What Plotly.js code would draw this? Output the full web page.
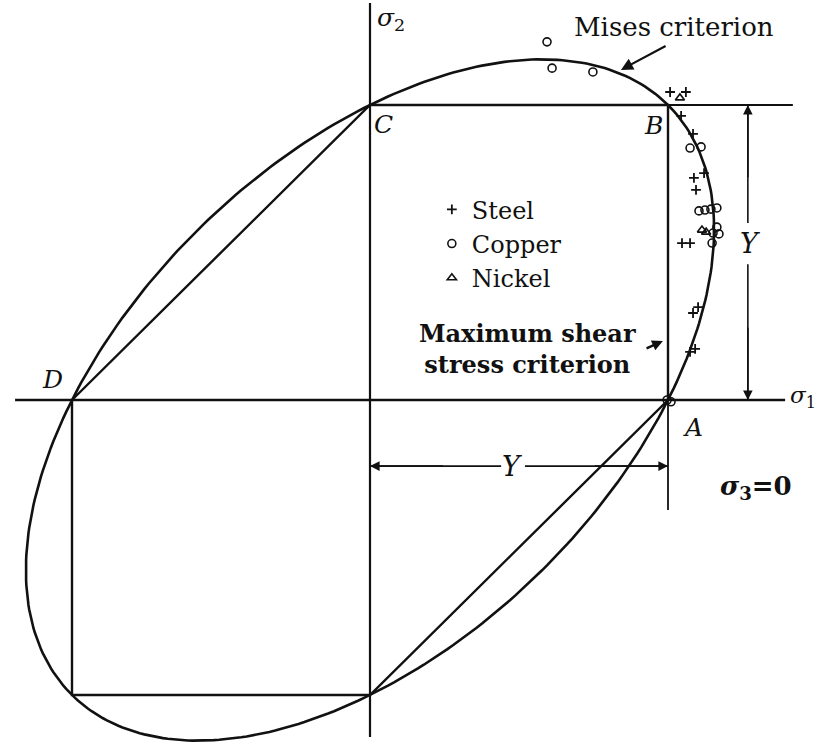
<!DOCTYPE html>
<html>
<head>
<meta charset="utf-8">
<script src="https://cdn.plot.ly/plotly-3.0.1.min.js"></script>
<style>
  html, body { margin: 0; padding: 0; background: #ffffff; }
  #chart { width: 821px; height: 743px; }
</style>
</head>
<body>
<div id="chart"></div>
<script>
// Biaxial yield test results, stresses in units of the uniaxial yield stress Y (σ3 = 0)
const steelS1  = [1.007, 1.060, 1.044, 1.084, 1.121, 1.087, 1.094, 1.047, 1.074, 1.084, 1.101, 1.074, 1.091];
const steelS2  = [1.044, 1.044, 0.963, 0.902, 0.769, 0.753, 0.712, 0.532, 0.532, 0.295, 0.315, 0.163, 0.173];
const copperS1 = [0.594, 0.611, 0.748, 1.074, 1.111, 1.104, 1.124, 1.144, 1.164, 1.164, 1.151, 1.171, 1.148, 0.997, 1.010];
const copperS2 = [1.214, 1.125, 1.112, 0.854, 0.858, 0.641, 0.644, 0.647, 0.651, 0.586, 0.566, 0.563, 0.532, 0.000, -0.006];
const nickelS1 = [1.040, 1.114, 1.128];
const nickelS2 = [1.024, 0.576, 0.569];

// Tresca (maximum shear stress) hexagon: D, C, B, A, lower vertex, lower-left corner, back to D
const trescaS1 = [-1, 0, 1, 1, 0, -1, -1];
const trescaS2 = [ 0, 1, 1, 0, -1, -1, 0];

// Mises ellipse: σ1² − σ1σ2 + σ2² = Y², with Y = 1
const misesS1 = [], misesS2 = [];
for (let i = 0; i <= 360; i++) {
  const t = i * Math.PI / 180;
  const u = Math.SQRT2 * Math.cos(t);          // along σ1 = σ2
  const v = Math.sqrt(2 / 3) * Math.sin(t);    // across it
  misesS1.push((u - v) / Math.SQRT2);
  misesS2.push((u + v) / Math.SQRT2);
}

const INK = '#111111';
const SERIF = 'DejaVu Serif, Liberation Serif, serif';
const DIM_Y = -0.224;   // height of the horizontal Y dimension line

const traces = [
  { x: misesS1, y: misesS2, mode: 'lines', line: { color: INK, width: 2.6 }, showlegend: false, hoverinfo: 'skip' },
  { x: trescaS1, y: trescaS2, mode: 'lines', line: { color: INK, width: 2.4 }, showlegend: false, hoverinfo: 'skip' },
  { name: 'Steel', x: steelS1, y: steelS2, mode: 'markers',
    marker: { symbol: 'cross-thin', size: 7, color: INK, line: { color: INK, width: 1.8 } } },
  { name: 'Copper', x: copperS1, y: copperS2, mode: 'markers',
    marker: { symbol: 'circle-open', size: 8, color: INK, line: { color: INK, width: 1.6 } } },
  { name: 'Nickel', x: nickelS1, y: nickelS2, mode: 'markers',
    marker: { symbol: 'triangle-up-open', size: 8, color: INK, line: { color: INK, width: 1.6 } } }
];

function seg(x0, y0, x1, y1, w) {
  return { type: 'line', xref: 'x', yref: 'y', x0: x0, y0: y0, x1: x1, y1: y1,
           line: { color: INK, width: w || 2.2 }, layer: 'below' };
}

const shapes = [
  seg(-1.191, 0, 1.393, 0, 2.4),     // σ1 axis
  seg(0, -1.142, 0, 1.346, 2.2),     // σ2 axis
  seg(1, 1, 1.419, 1, 1.8),          // extension of B
  seg(1, 0, 1, -0.373, 1.8),         // extension below A
  seg(1.268, 1, 1.268, 0.60, 1.6),   // vertical Y dimension
  seg(1.268, 0.46, 1.268, 0, 1.6),
  seg(0, DIM_Y, 0.44, DIM_Y, 1.6),   // horizontal Y dimension
  seg(0.52, DIM_Y, 1, DIM_Y, 1.6)
];

function txt(x, y, text, size, extra) {
  return Object.assign({ x: x, y: y, xref: 'x', yref: 'y', text: text, showarrow: false,
    font: { family: SERIF, size: size, color: INK } }, extra || {});
}
function arrow(x, y, ax, ay, w, hs) {
  return { x: x, y: y, ax: ax, ay: ay, xref: 'x', yref: 'y', axref: 'x', ayref: 'y',
    text: '', showarrow: true, arrowhead: 2, arrowsize: hs || 1.2, arrowwidth: w || 1.6,
    arrowcolor: INK, standoff: 0, startstandoff: 0 };
}

const annotations = [
  txt(1.020, 1.264, 'Mises criterion', 26),
  arrow(0.842, 1.119, 0.997, 1.203, 2.2, 1.1),
  txt(0.018, 1.292, '<i>σ</i><sub>2</sub>', 25, { xanchor: 'left' }),
  txt(0.045, 0.934, '<i>C</i>', 25),
  txt(0.950, 0.932, '<i>B</i>', 25),
  txt(-1.064, 0.071, '<i>D</i>', 25),
  txt(1.084, -0.092, '<i>A</i>', 25),
  txt(1.403, 0.010, '<i>σ</i><sub>1</sub>', 23, { xanchor: 'left' }),
  txt(0.527, 0.173, '<b>Maximum shear<br>stress criterion</b>', 24),
  arrow(0.983, 0.200, 0.923, 0.173, 2.4, 0.9),
  txt(1.275, 0.532, '<i>Y</i>', 27),
  arrow(1.268, 1, 1.268, 0.75),
  arrow(1.268, 0, 1.268, 0.25),
  txt(0.478, DIM_Y, '<i>Y</i>', 27),
  arrow(0, DIM_Y, 0.25, DIM_Y),
  arrow(1, DIM_Y, 0.75, DIM_Y),
  txt(1.295, -0.295, '<b><i>σ</i><sub>3</sub>=0</b>', 26)
];

const layout = {
  width: 821, height: 743,
  margin: { l: 0, r: 0, t: 0, b: 0 },
  paper_bgcolor: '#ffffff', plot_bgcolor: '#ffffff',
  xaxis: { range: [-370 / 298, 451 / 298], visible: false, fixedrange: true },
  yaxis: { range: [-343 / 295, 400 / 295], visible: false, fixedrange: true },
  showlegend: true,
  legend: { x: 0.526, y: 0.748, xanchor: 'left', yanchor: 'top', bgcolor: 'rgba(0,0,0,0)',
            font: { family: SERIF, size: 24, color: INK }, tracegroupgap: 0, itemwidth: 30 },
  shapes: shapes,
  annotations: annotations
};

Plotly.newPlot('chart', traces, layout, { staticPlot: true, displayModeBar: false });
</script>
</body>
</html>
